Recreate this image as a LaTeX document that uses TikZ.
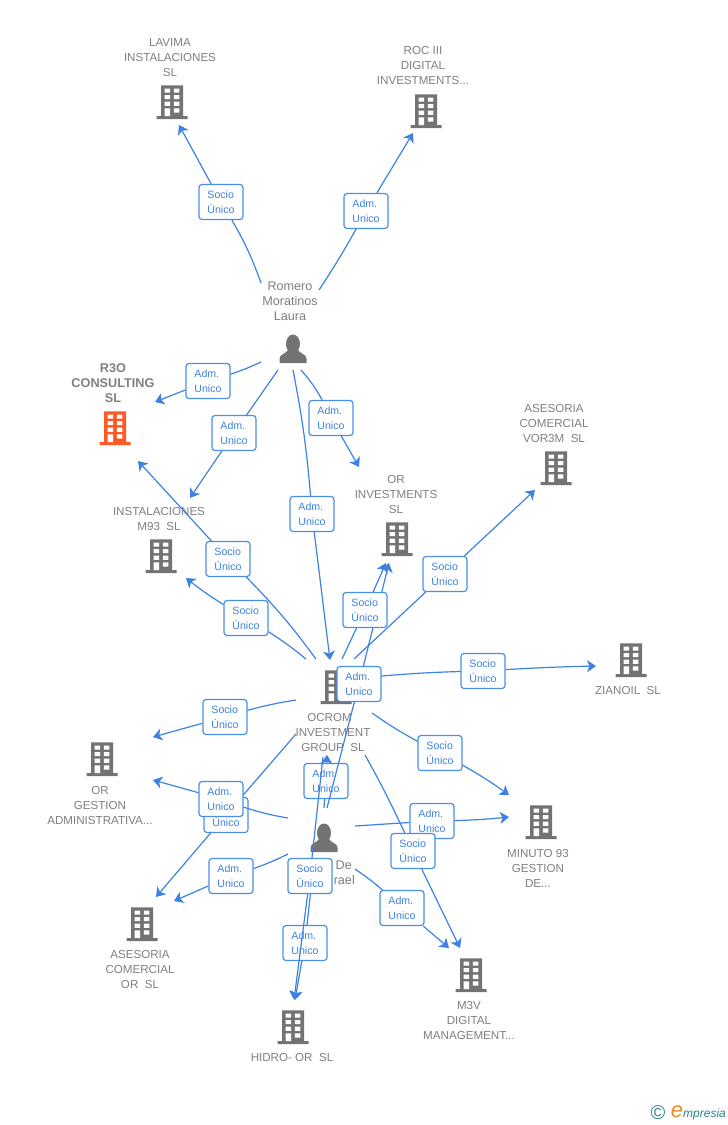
\documentclass[tikz,border=0pt]{standalone}
\usepackage{fontspec}
\setmainfont{Liberation Sans}
\usetikzlibrary{arrows.meta}
\definecolor{linkblue}{HTML}{3D82E2}
\definecolor{boxblue}{HTML}{4A8FE6}
\definecolor{namegray}{HTML}{7F7F7F}
\definecolor{icongray}{HTML}{737373}
\definecolor{iconred}{HTML}{FF5A26}
\definecolor{logoteal}{HTML}{2F7F93}
\definecolor{logoorange}{HTML}{F08A24}
\tikzset{
	bldg/.style={minimum width=31pt, minimum height=34pt, inner sep=0pt, outer sep=0pt,
		path picture={
			\begin{scope}[shift={(path picture bounding box.center)}]
				\fill[#1] (-11,-16.7) rectangle (11,15) (-15.5,14) rectangle (15.5,17);
				\fill[white] (-7.3,-13.5) rectangle (-1.8,-9.3) (1.8,-13.5) rectangle (7.3,-9.3)
				(-7.3,-7) rectangle (-1.8,-2.8) (1.8,-7) rectangle (7.3,-2.8)
				(-7.3,-0.3) rectangle (-1.8,3.9) (1.8,-0.3) rectangle (7.3,3.9)
				(-7.3,6.3) rectangle (-1.8,14.2) (1.8,6.3) rectangle (7.3,10.5);
			\end{scope}
		}},
	bldg/.default=icongray,
	person/.style={minimum width=28pt, minimum height=30pt, inner sep=0pt, outer sep=0pt,
		path picture={
			\begin{scope}[shift={(path picture bounding box.center)}]
				\fill[icongray] (0,-5) ellipse [x radius=7, y radius=9.5];
				\fill[icongray] (-13.5,14) -- (-13.5,9.5) .. controls (-13.5,5.5) and (-7,4.5) .. (-5,1)
				-- (5,1) .. controls (7,4.5) and (13.5,5.5) .. (13.5,9.5) -- (13.5,14) -- cycle;
			\end{scope}
		}},
	compname/.style={align=center, inner sep=0pt, text=namegray, yshift=-1pt, font=\fontsize{11.6}{15}\selectfont},
	rolebox/.style={draw=boxblue, line width=1.2pt, fill=white, rounded corners=3pt, minimum width=44pt,
		minimum height=35pt, inner sep=0pt, align=left, text=linkblue, font=\fontsize{10.6}{15}\selectfont},
	link/.style={draw=linkblue, line width=1.2pt},
	linkto/.style={link, -{Stealth[length=9pt, width=12pt, inset=2.5pt]}}
}
\begin{document}
\begin{tikzpicture}[x=1pt, y=-1pt]
	\useasboundingbox (0,0) rectangle (728,1125);
	% icons
	\node[bldg] at (172,102) (lavima) {};
	\node[bldg] at (426,111) (roc) {};
	\node[bldg=iconred] at (115,428) (rtreso) {};
	\node[bldg] at (161,556) (minst) {};
	\node[bldg] at (397,539) (orinv) {};
	\node[bldg] at (556,468) (vorasm) {};
	\node[bldg] at (631,660) (zianoil) {};
	\node[bldg] at (336,687) (ocrom) {};
	\node[bldg] at (541,822) (minuto) {};
	\node[bldg] at (471,975) (mtresv) {};
	\node[bldg] at (293,1027) (hidro) {};
	\node[bldg] at (102,759) (orgest) {};
	\node[bldg] at (142,924) (asor) {};
	\node[person] at (293,349) (romero) {};
	\node[person] at (324,838) (israel) {};
	% names
	\node[compname] at (170,57) (lavimaName) {LAVIMA\\INSTALACIONES\\SL};
	\node[compname] at (423,65) (rocName) {ROC III\\DIGITAL\\INVESTMENTS...};
	\node[compname, font=\fontsize{12.7}{15}\selectfont\bfseries] at (113,382) (rtresoName) {R3O\\CONSULTING\\SL};
	\node[compname] at (159,517.500) (minstName) {INSTALACIONES\\M93~~SL};
	\node[compname] at (396,493) (orinvName) {OR\\INVESTMENTS\\SL};
	\node[compname] at (554,422) (vorasmName) {ASESORIA\\COMERCIAL\\VOR3M~~SL};
	\node[compname] at (628,689) (zianoilName) {ZIANOIL~~SL};
	\node[compname] at (333,731) (ocromName) {OCROM\hspace*{7pt}\\INVESTMENT\\GROUP~~SL};
	\node[compname] at (538,867) (minutoName) {MINUTO 93\\GESTION\\DE...};
	\node[compname] at (469,1019) (mtresvName) {M3V\\DIGITAL\\MANAGEMENT...};
	\node[compname] at (292,1056) (hidroName) {HIDRO- OR~~SL};
	\node[compname] at (100,804) (orgestName) {OR\\GESTION\\ADMINISTRATIVA...};
	\node[compname] at (140,968) (asorName) {ASESORIA\\COMERCIAL\\OR~~SL};
	\node[compname, yshift=1pt, font=\fontsize{12.6}{15}\selectfont] at (290,301) (romeroName) {Romero\\Moratinos\\Laura};
	\node[compname, font=\fontsize{12.6}{15}\selectfont, align=right, anchor=east] at (355,872) (israelName) {De\hspace*{3pt}\\rael};
	% free ends
	\coordinate (r1) at (261,283); \coordinate (r1e) at (179,125);
	\coordinate (r2) at (319,290); \coordinate (r2e) at (413,133);
	\coordinate (r3) at (261,362); \coordinate (r3e) at (155,402);
	\coordinate (r4) at (278,370); \coordinate (r4e) at (190,498);
	\coordinate (r5) at (293,370); \coordinate (r5e) at (330,660);
	\coordinate (r6) at (301,370); \coordinate (r6e) at (359,467);
	\coordinate (o1) at (316,659); \coordinate (o1e) at (138,461);
	\coordinate (o2) at (306,659); \coordinate (o2e) at (186,578);
	\coordinate (o3) at (342,659); \coordinate (o3e) at (386,563);
	\coordinate (o4) at (354,659); \coordinate (o4e) at (535,490);
	\coordinate (o5) at (370,677); \coordinate (o5e) at (596,666);
	\coordinate (o6) at (372,713); \coordinate (o6e) at (509,795);
	\coordinate (o7) at (365,755); \coordinate (o7e) at (460,948);
	\coordinate (o8) at (296,700); \coordinate (o8e) at (153,737);
	\coordinate (o9) at (296,734); \coordinate (o9e) at (156,897);
	\coordinate (o10) at (323,757); \coordinate (o10e) at (294,1000);
	\coordinate (p1) at (324,808); \coordinate (p1e) at (327,755);
	\coordinate (p2) at (327,808); \coordinate (p2e) at (389,563);
	\coordinate (p3) at (288,818); \coordinate (p3e) at (153,780);
	\coordinate (p4) at (288,854); \coordinate (p4e) at (174,901);
	\coordinate (p5) at (355,826); \coordinate (p5e) at (509,817);
	\coordinate (p6) at (355,869); \coordinate (p6e) at (449,948);
	\coordinate (p7) at (312,880); \coordinate (p7e) at (295,1000);
	% Romero Moratinos
	\node[rolebox] at (221,202) (lavimaSoc) {Socio\\Único};
	\draw[link] (r1) to[bend right=5] (lavimaSoc);
	\draw[linkto] (lavimaSoc) -- (r1e);
	\node[rolebox] at (366,211) (rocAdm) {Adm.\\Unico};
	\draw[link] (r2) to[bend right=2] (rocAdm);
	\draw[linkto] (rocAdm) -- (r2e);
	\node[rolebox] at (208,381) (rtresoAdm) {Adm.\\Unico};
	\draw[link] (r3) to[bend left=3] (rtresoAdm);
	\draw[linkto] (rtresoAdm) -- (r3e);
	\node[rolebox] at (234,433) (minstAdm) {Adm.\\Unico};
	\draw[link] (r4) -- (minstAdm);
	\draw[linkto] (minstAdm) -- (r4e);
	\node[rolebox] at (312,514) (ocromAdm) {Adm.\\Unico};
	\draw[link] (r5) to[bend left=3] (ocromAdm);
	\draw[linkto] (ocromAdm) -- (r5e);
	\node[rolebox] at (331,418) (orinvAdm) {Adm.\\Unico};
	\draw[link] (r6) to[bend left=6] (orinvAdm);
	\draw[linkto] (orinvAdm) -- (r6e);
	% OCROM, first part
	\coordinate (zianoilMid) at (483,671);
	\draw[link] (o5) to[bend left=2] (zianoilMid);
	% De Israel
	\node[rolebox] at (305,943) (hidroAdm) {Adm.\\Unico};
	\draw[link] (p7) -- (hidroAdm);
	\draw[linkto] (hidroAdm) -- (p7e);
	\node[rolebox] at (326,781) (ocromAdmB) {Adm.\\Unico};
	\draw[link] (p1) -- (ocromAdmB);
	\draw[linkto] (ocromAdmB) -- (p1e);
	\node[rolebox] at (359,684) (orinvAdmB) {Adm.\\Unico};
	\draw[link] (p2) -- (orinvAdmB);
	\draw[linkto] (orinvAdmB) -- (p2e);
	\node[rolebox] at (231,876) (asorAdm) {Adm.\\Unico};
	\draw[link] (p4) to[bend left=3] (asorAdm);
	\draw[linkto] (asorAdm) -- (p4e);
	\node[rolebox] at (432,821) (minutoAdm) {Adm.\\Unico};
	\draw[link] (p5) -- (minutoAdm);
	\draw[linkto] (minutoAdm) to[bend right=2] (p5e);
	\node[rolebox] at (402,908) (mtresvAdm) {Adm.\\Unico};
	\draw[link] (p6) to[bend left=3] (mtresvAdm);
	\draw[linkto] (mtresvAdm) -- (p6e);
	% OCROM
	\node[rolebox] at (228,559) (rtresoSoc) {Socio\\Único};
	\draw[link] (o1) to[bend right=4] (rtresoSoc);
	\draw[linkto] (rtresoSoc) -- (o1e);
	\node[rolebox] at (246,618) (minstSoc) {Socio\\Único};
	\draw[link] (o2) to[bend right=3] (minstSoc);
	\draw[linkto] (minstSoc) to[bend left=3] (o2e);
	\node[rolebox] at (365,610) (orinvSoc) {Socio\\Único};
	\draw[link] (o3) -- (orinvSoc);
	\draw[linkto] (orinvSoc) -- (o3e);
	\node[rolebox] at (445,574) (vorasmSoc) {Socio\\Único};
	\draw[link] (o4) -- (vorasmSoc);
	\draw[linkto] (vorasmSoc) -- (o4e);
	\node[rolebox] at (483,671) (zianoilSoc) {Socio\\Único};
	\draw[linkto] (zianoilSoc) to[bend left=1] (o5e);
	\node[rolebox] at (440,753) (minutoSoc) {Socio\\Único};
	\draw[link] (o6) to[bend right=3] (minutoSoc);
	\draw[linkto] (minutoSoc) to[bend left=3] (o6e);
	\node[rolebox] at (413,851) (mtresvSoc) {Socio\\Único};
	\draw[link] (o7) to[bend left=2] (mtresvSoc);
	\draw[linkto] (mtresvSoc) -- (o7e);
	\node[rolebox] at (225,717) (orgestSoc) {Socio\\Único};
	\draw[link] (o8) to[bend right=3] (orgestSoc);
	\draw[linkto] (orgestSoc) -- (o8e);
	\node[rolebox] at (226,815) (asorSoc) {Socio\\Único};
	\draw[link] (o9) -- (asorSoc);
	\draw[linkto] (asorSoc) -- (o9e);
	\node[rolebox] at (310,876) (hidroSoc) {Socio\\Único};
	\draw[link] (o10) -- (hidroSoc);
	\draw[linkto] (hidroSoc) -- (o10e);
	% De Israel, over the box below it
	\node[rolebox] at (221,799) (orgestAdm) {Adm.\\Unico};
	\draw[link] (p3) to[bend left=4] (orgestAdm);
	\draw[linkto] (orgestAdm) -- (p3e);
	% logo
	\node[inner sep=0pt, text=logoteal, font=\fontsize{20}{20}\selectfont] at (658,1113) (logoMark) {©};
	\node[inner sep=0pt, text=logoorange, font=\fontsize{22}{22}\selectfont\itshape] at (677,1112) (logoE) {e};
	\node[inner sep=0pt, anchor=west, text=logoteal, font=\fontsize{12}{15}\selectfont\itshape] at (683,1114) (logoText) {mpresia};
\end{tikzpicture}
\end{document}
